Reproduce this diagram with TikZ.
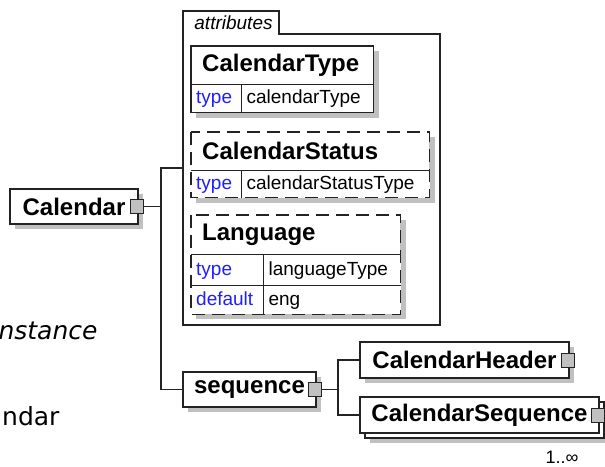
\documentclass[tikz,border=0pt]{standalone}
\usepackage{fontspec}
\setmainfont{Liberation Sans}
\newfontfamily\slidefont{DejaVu Sans}
\usetikzlibrary{shadows,backgrounds}
\definecolor{shadowgray}{RGB}{192,192,192}
\definecolor{keyblue}{RGB}{30,30,255}
\definecolor{edgegray}{RGB}{35,35,35}
\tikzset{
  elembox/.style={draw=edgegray, line width=1.2pt, fill=white, minimum height=35, inner sep=0pt,
    font=\fontsize{24}{28}\selectfont\bfseries},
  shadowed/.style={drop shadow={shadow xshift=5pt, shadow yshift=-5pt, fill=shadowgray, opacity=1}},
  plusbox/.style={draw=edgegray, line width=1pt, fill=shadowgray, minimum width=13, minimum height=14, inner sep=0pt},
  headcell/.style={anchor=north west, fill=white, inner xsep=11pt, inner ysep=0pt, minimum height=38,
    align=left, font=\fontsize{24}{28}\selectfont\bfseries},
  keycell/.style={anchor=north west, fill=white, inner xsep=5pt, inner ysep=0pt, minimum height=28,
    text height=14, text depth=4, align=left, text=keyblue, font=\fontsize{19}{22}\selectfont},
  valcell/.style={keycell, text=black},
  link/.style={draw=edgegray, line width=1.2pt},
  optline/.style={link, dash pattern=on 13pt off 7pt}
}
\begin{document}
\begin{tikzpicture}[x=1pt, y=-1pt]
        \useasboundingbox (0,0) rectangle (605,466);

        \node (instancecut) at (101,339) [anchor=base east, font=\slidefont\fontsize{25}{30}\selectfont\itshape] {nstance};
        \node (calendarcut) at (63,425) [anchor=base east, font=\slidefont\fontsize{25}{30}\selectfont] {ndar};

        \node (calendar) at (74,206.5) [elembox, shadowed, minimum width=128] {Calendar};
        \node (calendarplus) at ([xshift=-1.5pt]calendar.east) [plusbox] {};

        \draw[link] (183,325) -- (183,11) -- (279,11) -- (279,34) -- (440,34) -- (440,325) -- cycle;
        \node (attrslabel) at (233.5,23) [font=\fontsize{19}{22}\selectfont\itshape] {attributes};
        \coordinate (attrsin) at (183,168);

        \node (ctname) at (191,46) [headcell, text width=160] {CalendarType};
        \node (ctkey) at (ctname.south west) [keycell, text width=40] {type};
        \node (ctval) at (ctkey.north east) [valcell, text width=122] {calendarType};
        \draw[link] (ctname.north west) rectangle (ctval.south east);
        \draw[link] (ctname.south west) -- (ctname.south east);
        \draw[link] (ctkey.north east) -- (ctkey.south east);

        \node (csname) at (191,132) [headcell, text width=216] {CalendarStatus};
        \node (cskey) at (csname.south west) [keycell, text width=40, minimum height=27] {type};
        \node (csval) at (cskey.north east) [valcell, text width=178, minimum height=27] {calendarStatusType};
        \draw[optline] (csname.north west) rectangle (csval.south east);
        \draw[link] (csname.south west) -- (csname.south east);
        \draw[link] (cskey.north east) -- (cskey.south east);

        \node (lgname) at (191,215) [headcell, text width=187, minimum height=39] {Language};
        \node (lgtypekey) at (lgname.south west) [keycell, text width=62, minimum height=31] {type};
        \node (lgtypeval) at (lgtypekey.north east) [valcell, text width=127, minimum height=31] {languageType};
        \node (lgdefkey) at (lgtypekey.south west) [keycell, text width=62] {default};
        \node (lgdefval) at (lgdefkey.north east) [valcell, text width=127] {eng};
        \draw[optline] (lgname.north west) rectangle (lgdefval.south east);
        \draw[link] (lgname.south west) -- (lgname.south east);
        \draw[link] (lgtypekey.south west) -- (lgtypeval.south east);
        \draw[link] (lgtypekey.north east) -- (lgdefkey.south east);

        \begin{scope}[on background layer]
            \foreach \tl/\br in {ctname/ctval, csname/csval, lgname/lgdefval}
                \fill[shadowgray] ([shift={(5,5)}]\tl.north west) rectangle ([shift={(5,5)}]\br.south east);
        \end{scope}

        \node (sequence) at (249.5,389.5) [elembox, shadowed, minimum width=133] {sequence};
        \node (sequenceplus) at ([xshift=-1.5pt]sequence.east) [plusbox] {};

        \coordinate (fork1) at (161,206.5);
        \draw[link] (calendarplus.east) -- (fork1) |- (attrsin);
        \draw[link] (fork1) |- (sequence.west);

        \node (calheader) at (464.5,360) [elembox, shadowed, minimum width=209, minimum height=36] {CalendarHeader};
        \node (calheaderplus) at ([xshift=-1.5pt]calheader.east) [plusbox] {};

        \node (calseqback) at (484.5,420) [elembox, shadowed, minimum width=239, minimum height=36] {};
        \node (calseq) at (479.5,415) [elembox, minimum width=239, minimum height=36] {CalendarSequence};
        \node (calseqplus) at ([xshift=-1.5pt]calseq.east) [plusbox] {};
        \node (calseqcount) at (562,457) [inner sep=0pt, font=\fontsize{18}{20}\selectfont] {1..∞};

        \coordinate (fork2) at (338,389.5);
        \draw[link] (sequenceplus.east) -- (fork2) |- (calheader.west);
        \draw[link] (fork2) |- (calseq.west);
\end{tikzpicture}
\end{document}
